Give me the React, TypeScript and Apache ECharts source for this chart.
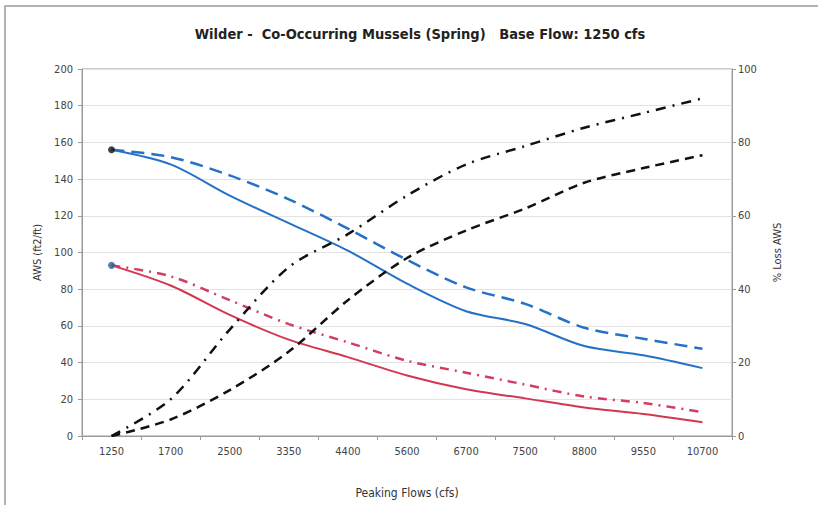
import React, { useEffect, useRef } from "react";
import * as echarts from "echarts";

const categories = ["1250", "1700", "2500", "3350", "4400", "5600", "6700", "7500", "8800", "9550", "10700"];
const awsSolidBlue = [156, 148, 131, 116, 101, 83, 68, 61, 49, 44, 37];
const awsDashedBlue = [156, 152, 142, 129, 113, 96, 81, 72, 59, 53, 47.5];
const awsSolidRed = [93, 82, 66, 52.5, 43, 33, 25.5, 20.5, 15.5, 12, 7.5];
const awsDashDotRed = [93, 87, 74, 61, 51, 41, 34.5, 28, 21.5, 18, 13];
const lossDashed = [0, 4.5, 12.5, 23, 37, 48.5, 56, 62, 69, 73, 76.5];
const lossDashDot = [0, 10, 29, 46, 55, 65.5, 74, 79, 84, 88, 92];
const leftTicks = { min: 0, max: 200, interval: 20 };
const rightTicks = { min: 0, max: 100, interval: 20 };

const FONT = "'Liberation Sans Narrow', 'DejaVu Sans Condensed', Arial, sans-serif";

export default function App() {
  const ref = useRef<HTMLDivElement>(null);
  useEffect(() => {
    if (!ref.current) return;
    const chart = echarts.init(ref.current, null, { renderer: "svg" });
    const blue = "#2571c6";
    const red = "#d2374f";
    const black = "#111111";
    chart.setOption({
      animation: false,
      backgroundColor: "#ffffff",
      title: {
        text: "Wilder -  Co-Occurring Mussels (Spring)   Base Flow: 1250 cfs",
        left: 415,
        textAlign: "center",
        top: 21,
        textStyle: { fontFamily: FONT, fontSize: 14.5, fontWeight: "bold", color: "#222" },
      },
      graphic: [
        {
          type: "rect",
          shape: { x: 5, y: 6, width: 830, height: 520 },
          style: { fill: "none", stroke: "#9a9a9a", lineWidth: 1.5 },
          silent: true,
        },
      ],
      grid: { left: 82, right: 86, top: 69, bottom: 69, show: true, borderColor: "#9a9a9a", borderWidth: 1 },
      xAxis: {
        type: "category",
        data: categories,
        boundaryGap: true,
        name: "Peaking Flows (cfs)",
        nameLocation: "middle",
        nameGap: 51,
        nameTextStyle: { fontFamily: FONT, fontSize: 12, color: "#333" },
        axisLine: { lineStyle: { color: "#9a9a9a" } },
        axisTick: { show: true, length: 4, lineStyle: { color: "#9a9a9a" } },
        axisLabel: { fontFamily: FONT, fontSize: 11, color: "#444", margin: 10 },
      },
      yAxis: [
        {
          type: "value",
          min: leftTicks.min,
          max: leftTicks.max,
          interval: leftTicks.interval,
          name: "AWS (ft2/ft)",
          nameLocation: "middle",
          nameRotate: 90,
          nameGap: 37,
          nameTextStyle: { fontFamily: FONT, fontSize: 11, color: "#333" },
          axisLine: { show: true, lineStyle: { color: "#9a9a9a" } },
          axisTick: { show: true, length: 4, lineStyle: { color: "#9a9a9a" } },
          axisLabel: { fontFamily: FONT, fontSize: 11, color: "#444", margin: 9 },
          splitLine: { show: true, lineStyle: { color: "#e2e2e2", width: 1 } },
        },
        {
          type: "value",
          position: "right",
          min: rightTicks.min,
          max: rightTicks.max,
          interval: rightTicks.interval,
          name: "% Loss AWS",
          nameLocation: "middle",
          nameRotate: 90,
          nameGap: 40,
          nameTextStyle: { fontFamily: FONT, fontSize: 11, color: "#333" },
          axisLine: { show: true, lineStyle: { color: "#9a9a9a" } },
          axisTick: { show: true, length: 4, lineStyle: { color: "#9a9a9a" } },
          axisLabel: { fontFamily: FONT, fontSize: 11, color: "#444", margin: 6 },
          splitLine: { show: false },
        },
      ],
      series: [
        {
          type: "line",
          name: "AWS blue",
          data: awsSolidBlue,
          smooth: 0.3,
          symbol: "none",
          lineStyle: { color: blue, width: 2 },
          z: 3,
        },
        {
          type: "line",
          name: "AWS blue dashed",
          data: awsDashedBlue,
          smooth: 0.3,
          symbol: "none",
          lineStyle: { color: blue, width: 2.5, type: [13, 7] },
          z: 3,
        },
        {
          type: "line",
          name: "AWS red",
          data: awsSolidRed,
          smooth: 0.3,
          symbol: "none",
          lineStyle: { color: red, width: 2 },
          z: 3,
        },
        {
          type: "line",
          name: "AWS red dashdot",
          data: awsDashDotRed,
          smooth: 0.3,
          symbol: "none",
          lineStyle: { color: "#d43d62", width: 2.5, type: [9, 6, 2, 6] },
          z: 3,
        },
        {
          type: "line",
          name: "Loss dashed",
          yAxisIndex: 1,
          data: lossDashed,
          smooth: 0.3,
          symbol: "none",
          lineStyle: { color: black, width: 2.5, type: [9, 6] },
          z: 4,
        },
        {
          type: "line",
          name: "Loss dashdot",
          yAxisIndex: 1,
          data: lossDashDot,
          smooth: 0.3,
          symbol: "none",
          lineStyle: { color: black, width: 2.5, type: [10, 7, 2, 7] },
          z: 4,
        },
        {
          type: "scatter",
          name: "start blue",
          data: [[categories[0], awsSolidBlue[0]]],
          symbol: "circle",
          symbolSize: 7,
          itemStyle: { color: "#111" },
          z: 5,
        },
        {
          type: "scatter",
          name: "start red",
          data: [[categories[0], awsSolidRed[0]]],
          symbol: "circle",
          symbolSize: 7,
          itemStyle: { color: "#2b5d8e" },
          z: 5,
        },
      ],
    });
    return () => chart.dispose();
  }, []);
  return (
    <div
      ref={ref}
      style={{ position: "absolute", left: 0, top: 0, width: 818, height: 505, background: "#fff" }}
    />
  );
}
